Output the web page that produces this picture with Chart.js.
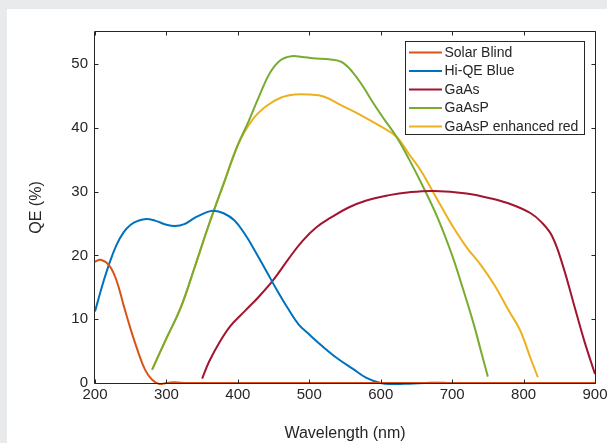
<!DOCTYPE html>
<html>
<head>
<meta charset="utf-8">
<script src="https://cdn.jsdelivr.net/npm/chart.js@4/dist/chart.umd.min.js"></script>
<style>
  html, body { margin: 0; padding: 0; background: #e9eaec; }
  #wrap { width: 607px; height: 443px; }
</style>
</head>
<body>
<div id="wrap"><canvas id="qe" width="607" height="443"></canvas></div>
<script>
// values (wavelength nm, QE %)
const solarBlindX = [200, 208, 220, 230, 240, 250, 260, 270, 280, 290, 300, 310, 330, 400, 500, 600, 700, 800, 900];
const solarBlindY = [19.0, 19.3, 18.4, 16.1, 12.2, 8.4, 5.0, 2.1, 0.5, -0.15, 0, 0.1, 0, 0, 0, 0, 0, 0, 0];

const hiQeX = [200, 210, 220, 230, 240, 250, 260, 272, 285, 300, 312, 325, 340, 355, 366, 380, 395, 410, 425, 440, 455, 470, 485, 500, 520, 540, 560, 580, 600, 615, 640, 670, 700, 800, 900];
const hiQeY = [11.2, 15.2, 18.7, 21.6, 23.6, 24.8, 25.4, 25.7, 25.4, 24.8, 24.6, 24.9, 25.9, 26.7, 27.0, 26.6, 25.5, 23.3, 20.5, 17.5, 14.5, 11.7, 9.2, 7.6, 5.6, 3.8, 2.3, 0.8, 0, -0.15, -0.1, 0.05, 0, 0, 0];

const gaasX = [350, 360, 375, 390, 410, 430, 450, 470, 490, 510, 530, 555, 580, 610, 640, 675, 720, 755, 785, 810, 825, 840, 855, 870, 885, 900];
const gaasY = [0.7, 3.4, 6.5, 9.0, 11.3, 13.6, 16.2, 19.3, 22.2, 24.4, 25.9, 27.5, 28.6, 29.4, 29.9, 30.1, 29.7, 28.9, 27.9, 26.6, 25.2, 23.0, 18.4, 12.5, 6.6, 1.4];

const gaaspX = [280, 300, 320, 340, 360, 380, 400, 415, 430, 445, 460, 475, 490, 505, 530, 545, 560, 575, 590, 605, 622, 640, 660, 680, 700, 715, 730, 742, 750];
const gaaspY = [2.1, 7.0, 11.8, 18.3, 25.0, 31.2, 37.3, 41.0, 45.0, 48.6, 50.6, 51.2, 51.1, 50.9, 50.7, 50.3, 48.8, 46.5, 43.8, 41.3, 38.6, 35.0, 30.6, 25.8, 20.0, 14.8, 9.3, 4.3, 1.0];

const enhRedX = [280, 300, 320, 340, 360, 380, 400, 420, 440, 460, 480, 500, 520, 545, 570, 600, 622, 640, 655, 670, 685, 700, 720, 740, 760, 780, 795, 810, 820];
const enhRedY = [2.1, 7.0, 11.8, 18.3, 25.0, 31.2, 37.3, 41.2, 43.4, 44.7, 45.2, 45.2, 44.9, 43.5, 42.1, 40.2, 38.6, 35.8, 33.5, 30.6, 27.6, 24.7, 21.3, 18.5, 15.2, 11.2, 8.3, 3.8, 0.9];

const seriesNames = ['Solar Blind', 'Hi-QE Blue', 'GaAs', 'GaAsP', 'GaAsP enhanced red'];
const seriesColors = ['#D95319', '#0072BD', '#A2142F', '#77AC30', '#EDB120'];

const xTicks = [200, 300, 400, 500, 600, 700, 800, 900];
const yTicks = [0, 10, 20, 30, 40, 50];

const AX = '#262626';

function pts(xs, ys) {
  return xs.map((x, i) => ({ x, y: ys[i] }));
}

const allSeries = [
  pts(solarBlindX, solarBlindY),
  pts(hiQeX, hiQeY),
  pts(gaasX, gaasY),
  pts(gaaspX, gaaspY),
  pts(enhRedX, enhRedY)
];

const datasets = allSeries.map((d, i) => ({
  label: seriesNames[i],
  data: d,
  borderColor: seriesColors[i],
  backgroundColor: seriesColors[i],
  borderWidth: 2,
  pointRadius: 0,
  fill: false,
  tension: 0.4,
  clip: 3
}));

// gray page with white figure panel
const panelBg = {
  id: 'panelBg',
  beforeDraw(chart) {
    const { ctx, width, height } = chart;
    ctx.save();
    ctx.fillStyle = '#e9eaec';
    ctx.fillRect(0, 0, width, height);
    ctx.fillStyle = '#ffffff';
    ctx.fillRect(7, 9, width - 7, height - 9);
    ctx.restore();
  }
};

// MATLAB style box with inward ticks on all four sides
const axesBox = {
  id: 'axesBox',
  afterDatasetsDraw(chart) {
    const { ctx, chartArea: a, scales } = chart;
    const L = a.left - 0.5, R = a.right + 0.5, T = a.top - 0.5, B = a.bottom + 0.5;
    const tl = 4;
    ctx.save();
    ctx.strokeStyle = AX;
    ctx.lineWidth = 1;
    ctx.beginPath();
    ctx.rect(L, T, R - L, B - T);
    xTicks.forEach(v => {
      const px = Math.round(scales.x.getPixelForValue(v)) + 0.5;
      ctx.moveTo(px, B); ctx.lineTo(px, B - tl);
      ctx.moveTo(px, T); ctx.lineTo(px, T + tl);
    });
    yTicks.forEach(v => {
      const py = Math.round(scales.y.getPixelForValue(v)) + 0.5;
      ctx.moveTo(L, py); ctx.lineTo(L + tl, py);
      ctx.moveTo(R, py); ctx.lineTo(R - tl, py);
    });
    ctx.stroke();
    ctx.restore();
  }
};

// boxed legend in the upper right, like the original
const boxLegend = {
  id: 'boxLegend',
  afterDraw(chart) {
    const { ctx } = chart;
    const x0 = 405.5, y0 = 41.5, w = 179, h = 93;
    const rowH = 18.5, firstRow = 52.5;
    ctx.save();
    ctx.fillStyle = '#ffffff';
    ctx.fillRect(x0, y0, w, h);
    ctx.strokeStyle = AX;
    ctx.lineWidth = 1;
    ctx.strokeRect(x0, y0, w, h);
    ctx.font = '14px "Liberation Sans", Arial, sans-serif';
    ctx.textBaseline = 'middle';
    ctx.textAlign = 'left';
    chart.data.datasets.forEach((ds, i) => {
      const y = firstRow + i * rowH;
      ctx.strokeStyle = ds.borderColor;
      ctx.lineWidth = 2;
      ctx.beginPath();
      ctx.moveTo(409, y); ctx.lineTo(442, y);
      ctx.stroke();
      ctx.fillStyle = AX;
      ctx.fillText(ds.label, 444.5, y + 0.5);
    });
    ctx.restore();
  }
};

const tickFont = { family: '"Liberation Sans", Arial, sans-serif', size: 15 };
const titleFont = { family: '"Liberation Sans", Arial, sans-serif', size: 16 };

new Chart(document.getElementById('qe'), {
  type: 'line',
  data: { datasets },
  plugins: [panelBg, axesBox, boxLegend],
  options: {
    responsive: false,
    animation: false,
    layout: { padding: { left: 0, top: 32, right: 12, bottom: 0 } },
    plugins: {
      legend: { display: false },
      tooltip: { enabled: false }
    },
    scales: {
      x: {
        type: 'linear',
        min: 200,
        max: 900,
        grid: { display: false, drawTicks: false },
        border: { display: false },
        ticks: {
          stepSize: 100,
          color: AX,
          font: tickFont,
          padding: 3,
          maxRotation: 0,
          autoSkip: false
        },
        afterBuildTicks: s => { s.ticks = xTicks.map(v => ({ value: v })); },
        afterFit: s => { s.height = 60; s.paddingLeft = 0; s.paddingRight = 0; },
        title: {
          display: true,
          text: 'Wavelength (nm)',
          color: AX,
          font: titleFont,
          padding: { top: 0, bottom: 0 }
        }
      },
      y: {
        type: 'linear',
        min: 0,
        max: 55,
        grid: { display: false, drawTicks: false },
        border: { display: false },
        ticks: {
          stepSize: 10,
          color: AX,
          font: tickFont,
          padding: 7
        },
        afterBuildTicks: s => { s.ticks = yTicks.map(v => ({ value: v })); },
        afterFit: s => { s.width = 95; },
        title: {
          display: true,
          text: 'QE (%)',
          color: AX,
          font: titleFont,
          padding: { top: 27, bottom: 0 }
        }
      }
    }
  }
});
</script>
</body>
</html>
